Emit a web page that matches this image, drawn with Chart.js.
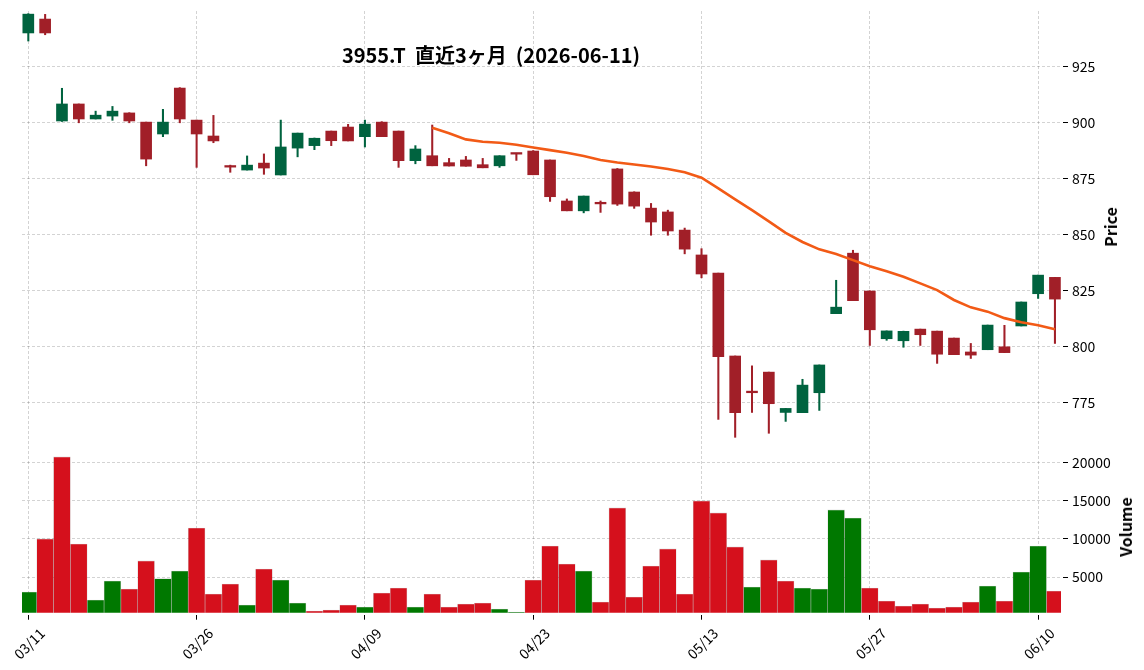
<!DOCTYPE html>
<html>
<head>
<meta charset="utf-8">
<script src="https://cdn.jsdelivr.net/npm/chart.js@4.4.0/dist/chart.umd.min.js"></script>
<style>
  html, body { margin: 0; padding: 0; background: #ffffff; }
  #wrap { position: relative; width: 1144px; height: 670px; overflow: hidden; background: #fff; }
  #cPrice { position: absolute; left: 0; top: 0; }
  #cVol { position: absolute; left: 0; top: 436px; }
  .lbl { position: absolute; font-family: "Noto Sans CJK JP", "Noto Sans", sans-serif; color: #000; white-space: pre; line-height: 1; }
  #title { left: 491px; top: 55px; transform: translate(-50%, -50%); font-size: 20px; font-weight: bold; }
  #tPrice { left: 1110px; top: 227px; transform: translate(-50%, -50%) rotate(-90deg); font-size: 16px; font-weight: bold; }
  #tVol { left: 1125px; top: 527px; transform: translate(-50%, -50%) rotate(-90deg); font-size: 16px; font-weight: bold; }
</style>
</head>
<body>
<div id="wrap">
  <canvas id="cPrice" width="1144" height="440"></canvas>
  <canvas id="cVol" width="1144" height="234"></canvas>
  <div id="title" class="lbl">3955.T  直近3ヶ月  (2026-06-11)</div>
  <div id="tPrice" class="lbl">Price</div>
  <div id="tVol" class="lbl">Volume</div>
</div>
<script>
// ---------------- data ----------------
const dates = ['03/11','03/12','03/13','03/16','03/17','03/18','03/19','03/23','03/24','03/25',
  '03/26','03/27','03/30','03/31','04/01','04/02','04/03','04/06','04/07','04/08',
  '04/09','04/10','04/13','04/14','04/15','04/16','04/17','04/20','04/21','04/22',
  '04/23','04/24','04/27','04/28','04/30','05/01','05/07','05/08','05/11','05/12',
  '05/13','05/14','05/15','05/18','05/19','05/20','05/21','05/22','05/25','05/26',
  '05/27','05/28','05/29','06/01','06/02','06/03','06/04','06/05','06/08','06/09',
  '06/10','06/11'];

const opens = [939.9,946.1,900.6,908.2,901.5,902.8,904.2,900.1,894.8,915.3,
  901.0,893.9,880.2,878.7,881.8,876.5,888.5,889.6,896.1,897.9,
  893.6,900.1,896.1,882.9,885.1,882.0,883.2,881.1,880.6,886.2,
  887.2,883.2,864.9,860.5,864.0,879.2,868.9,861.7,860.0,851.9,
  840.8,832.7,795.7,779.7,788.5,770.5,770.4,779.3,814.6,841.6,
  824.7,803.4,802.5,807.7,806.8,803.7,797.5,798.5,799.8,809.1,
  823.5,830.8];
const highs = [948.5,948.2,915.2,908.2,905.0,907.1,904.3,900.1,905.8,915.5,
  901.0,903.1,880.9,885.0,885.9,901.0,895.2,893.0,896.1,899.1,
  901.0,900.3,896.1,889.6,898.8,883.9,884.8,883.9,885.1,886.2,
  887.4,883.2,865.8,867.1,864.9,879.4,869.0,863.8,860.8,852.8,
  843.6,832.7,795.7,791.3,788.5,772.3,785.3,791.7,829.5,842.9,
  824.8,806.9,806.8,807.7,806.8,803.7,801.3,809.5,809.4,819.8,
  831.8,830.8];
const lows = [936.3,939.1,900.4,899.8,901.5,900.9,899.8,880.6,893.6,899.8,
  879.9,890.9,877.7,878.7,876.8,876.5,884.6,887.8,889.6,891.7,
  889.0,893.6,879.9,881.5,880.6,880.5,880.4,879.7,879.9,883.0,
  876.6,864.7,860.5,859.6,859.8,862.9,861.6,849.6,849.6,841.3,
  830.6,767.4,759.4,770.5,761.2,766.5,770.4,771.4,814.6,820.4,
  800.4,802.7,799.6,800.4,792.4,796.3,794.6,798.5,797.2,809.1,
  821.4,801.3];
const closes = [948.3,939.9,908.2,901.5,903.2,905.0,900.6,883.6,900.1,901.5,
  894.8,891.7,880.0,880.9,879.6,889.0,895.2,892.9,891.8,891.7,
  899.2,893.6,882.9,888.1,880.6,880.5,880.4,879.7,885.1,885.8,
  876.6,866.8,860.5,867.1,863.6,863.5,862.6,855.5,851.5,843.4,
  832.3,795.4,770.4,779.3,774.4,772.3,782.7,791.7,817.5,820.4,
  807.4,806.9,806.7,805.2,796.5,796.3,796.1,809.5,797.2,819.8,
  831.8,821.1];
const volumes = [3040,9980,20700,9320,1990,4480,3430,7100,4780,5790,
  11410,2780,4080,1340,6050,4610,1600,550,680,1340,
  1070,2910,3560,1070,2780,1070,1470,1600,810,420,
  4610,9060,6700,5790,1730,14030,2380,6440,8670,2780,
  14950,13380,8930,3690,7230,4480,3560,3430,13770,12720,
  3560,1860,1200,1470,940,1070,1730,3820,1860,5660,
  9060,3170];
// 25-day moving average (starts at 04/15)
const ma25 = [null,null,null,null,null,null,null,null,null,null,
  null,null,null,null,null,null,null,null,null,null,
  null,null,null,null,897.6,895.1,892.4,891.3,890.9,890.0,
  888.8,887.6,886.4,885.0,883.2,882.1,881.2,880.3,879.2,877.7,
  875.3,870.5,865.6,860.8,855.8,850.7,846.6,843.3,841.2,838.5,
  835.8,833.5,831.1,828.1,825.1,820.7,817.4,815.5,812.6,810.8,
  809.4,807.6];

const xTickIdx = [0, 10, 20, 30, 40, 50, 60];
const priceTicks = [775, 800, 825, 850, 875, 900, 925];
const volumeTicks = [5000, 10000, 15000, 20000];

// ---------------- style ----------------
const UP = '#00633f', DOWN = '#a11f28';
const VUP = '#007800', VDOWN = '#d5101c';
const MA_COLOR = '#f25a16';
const GRID = 'rgba(0,0,0,0.22)';
const FONT = '"Noto Sans CJK JP", "Noto Sans", sans-serif';
const X_MIN = -0.375, X_MAX = 61.36;

const candleColors = opens.map((o, i) => closes[i] >= o ? UP : DOWN);
const volColors = closes.map((c, i) => (i === 0 || c > closes[i - 1]) ? VUP : VDOWN);

const bodyData = opens.map((o, i) => ({ x: i, y: [o, closes[i]] }));
const wickData = lows.map((l, i) => ({ x: i, y: [l, highs[i]] }));
const maData = ma25.map((v, i) => ({ x: i, y: v })).filter(p => p.y !== null);
const volData = volumes.map((v, i) => ({ x: i, y: v }));

const tickDash = [0, 2, 5, 20];

function zeroPad(s) { s.paddingTop = 0; s.paddingBottom = 0; s.paddingLeft = 0; s.paddingRight = 0; }

function xScale(showLabels) {
  return {
    type: 'linear',
    offset: false,
    min: X_MIN, max: X_MAX,
    afterBuildTicks: s => { s.ticks = xTickIdx.map(v => ({ value: v })); },
    afterFit: s => { s.height = showLabels ? 57.3 : 0; zeroPad(s); },
    ticks: {
      display: showLabels,
      autoSkip: false,
      minRotation: 45, maxRotation: 45,
      padding: 5,
      labelOffset: 14,
      color: '#000',
      font: { family: FONT, size: 14 },
      callback: v => dates[v] || ''
    },
    grid: {
      offset: false,
      color: GRID, lineWidth: 0.8,
      drawTicks: showLabels,
      tickColor: '#000', tickLength: 7, tickWidth: 1, tickBorderDash: tickDash
    },
    border: { display: false, dash: [3, 2] }
  };
}

function yScale(min, max, ticksArr) {
  return {
    position: 'right',
    min: min, max: max,
    afterBuildTicks: s => { s.ticks = ticksArr.map(v => ({ value: v })); },
    afterFit: s => { s.width = 83; zeroPad(s); },
    ticks: {
      color: '#000',
      padding: 4,
      font: { family: FONT, size: 14 },
      callback: v => String(v)
    },
    grid: {
      color: GRID, lineWidth: 0.8,
      tickColor: '#000', tickLength: 7, tickWidth: 1, tickBorderDash: tickDash
    },
    border: { display: false, dash: [3, 2] }
  };
}

const common = {
  responsive: false,
  animation: false,
  devicePixelRatio: 1,
  plugins: { legend: { display: false }, tooltip: { enabled: false }, title: { display: false } },
};

new Chart(document.getElementById('cPrice'), {
  type: 'bar',
  data: {
    datasets: [
      { type: 'line', data: maData, borderColor: MA_COLOR, borderWidth: 2.6, pointRadius: 0, tension: 0, order: 0 },
      { type: 'bar', data: bodyData, backgroundColor: candleColors, borderWidth: 0, barThickness: 11, minBarLength: 1.6, grouped: false, order: 1 },
      { type: 'bar', data: wickData, backgroundColor: candleColors, borderWidth: 0, barThickness: 1.4, grouped: false, order: 2 }
    ]
  },
  options: Object.assign({}, common, {
    layout: { padding: { left: 22, right: 0, top: 11, bottom: 0 } },
    scales: { x: xScale(false), y: yScale(758.2, 949.7, priceTicks) }
  })
});

new Chart(document.getElementById('cVol'), {
  type: 'bar',
  data: {
    datasets: [
      { data: volData, backgroundColor: volColors, borderColor: 'rgba(0,0,0,0.18)', borderWidth: 0.6,
        barPercentage: 1, categoryPercentage: 1, grouped: false }
    ]
  },
  options: Object.assign({}, common, {
    layout: { padding: { left: 22, right: 0, top: 5, bottom: 0 } },
    scales: { x: xScale(true), y: yScale(332, 22785, volumeTicks) }
  })
});
</script>
</body>
</html>
